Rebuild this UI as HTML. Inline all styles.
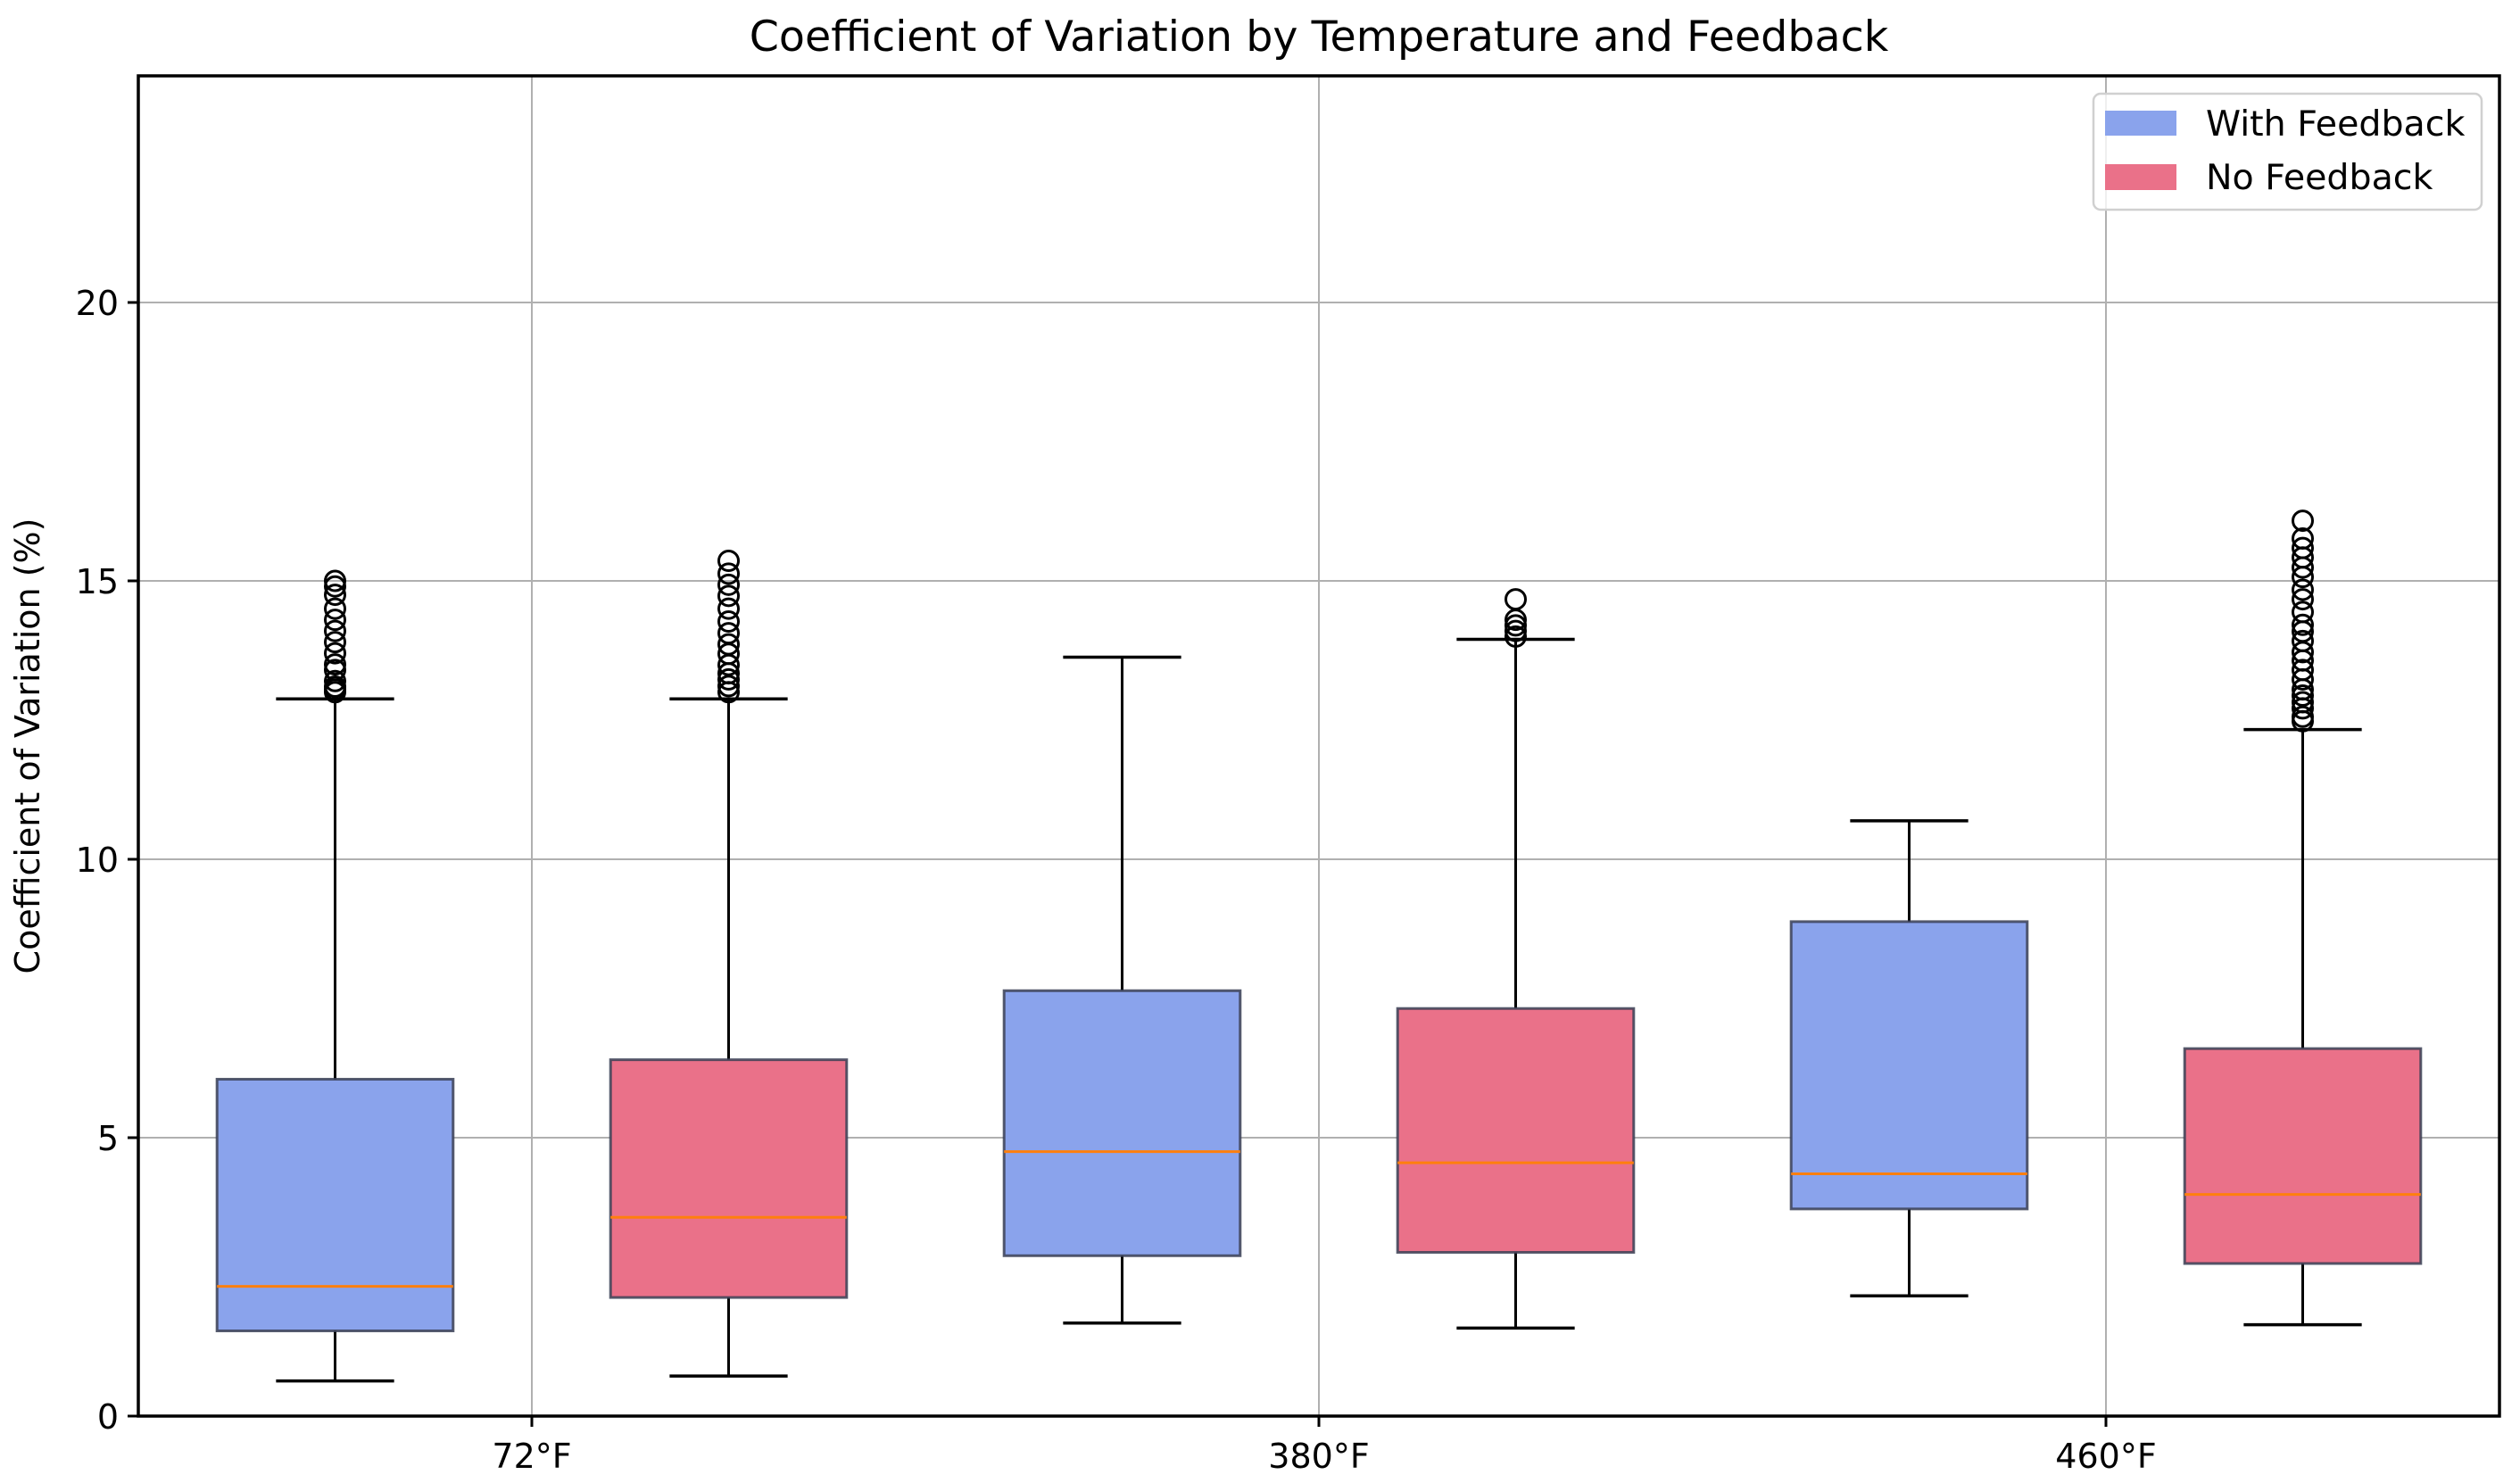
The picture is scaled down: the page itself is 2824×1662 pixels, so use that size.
<!DOCTYPE html>
<html><head><meta charset="utf-8"><style>
body{margin:0;background:#fff}
svg{display:block;font-family:"DejaVu Sans","Liberation Sans",sans-serif}
</style></head><body>
<svg id="chart" width="2824" height="1662" viewBox="0 0 2824 1662" xmlns="http://www.w3.org/2000/svg">
<rect width="2824" height="1662" fill="#fff"/>
<text x="1478" y="57" font-size="47.5" text-anchor="middle" fill="#000">Coefficient of Variation by Temperature and Feedback</text>
<text transform="translate(44,836) rotate(-90)" font-size="38" text-anchor="middle" fill="#000">Coefficient of Variation (%)</text>
<g id="grid"></g>
<g id="boxes"></g>
<rect x="155" y="85" width="2646" height="1502" fill="none" stroke="#000" stroke-width="3.5"/>
<g id="axes"></g>
<g>
<rect x="2346" y="105" width="435" height="130" rx="8" fill="#fff" fill-opacity="0.8" stroke="#d0d0d0" stroke-width="2.5"/>
<rect x="2359" y="124" width="80" height="28" fill="#8aa3ec"/>
<text x="2472" y="152" font-size="39.5" fill="#000">With Feedback</text>
<rect x="2359" y="184" width="80" height="29" fill="#ea7189"/>
<text x="2472" y="212" font-size="39.5" fill="#000">No Feedback</text>
</g>
</svg>
<script>
const categories = ["72°F", "380°F", "460°F"];
const seriesNames = ["With Feedback", "No Feedback"];
const whiskerLow = [0.63, 0.72, 1.67, 1.58, 2.16, 1.64];
const q1 = [1.53, 2.13, 2.88, 2.94, 3.72, 2.74];
const median = [2.33, 3.57, 4.75, 4.55, 4.35, 3.98];
const q3 = [6.05, 6.4, 7.64, 7.32, 8.88, 6.6];
const whiskerHigh = [12.88, 12.88, 13.63, 13.95, 10.69, 12.33];
const outliers0 = [13.0, 13.05, 13.1, 13.2, 13.4, 13.5, 13.7, 13.9, 14.1, 14.3, 14.5, 14.75, 14.9, 15.0];
const outliers1 = [13.0, 13.11, 13.23, 13.34, 13.49, 13.69, 13.86, 14.06, 14.27, 14.5, 14.73, 14.93, 15.13, 15.36];
const outliers2 = [];
const outliers3 = [14.0, 14.1, 14.2, 14.3, 14.67];
const outliers4 = [];
const outliers5 = [12.48, 12.56, 12.71, 12.82, 12.94, 13.05, 13.23, 13.4, 13.57, 13.72, 13.92, 14.09, 14.21, 14.44, 14.67, 14.84, 15.07, 15.24, 15.42, 15.59, 15.76, 16.08];
const yTicks = [0, 5, 10, 15, 20];

const NS = "http://www.w3.org/2000/svg";
const L = 155, R = 2801, T = 85, B = 1587;
const xMin = -0.5, xMax = 2.5, yMin = 0, yMax = 24.07;
const xs = v => L + (v - xMin) / (xMax - xMin) * (R - L);
const ys = v => B - (v - yMin) / (yMax - yMin) * (B - T);
function el(tag, attrs, parent) {
  const e = document.createElementNS(NS, tag);
  for (const k in attrs) e.setAttribute(k, attrs[k]);
  parent.appendChild(e);
  return e;
}
const grid = document.getElementById('grid');
const boxes = document.getElementById('boxes');
const axes = document.getElementById('axes');

yTicks.forEach(t => {
  const y = ys(t);
  if (t > 0) {
    const g = el('line', {x1: L, x2: R, y1: y, y2: y, stroke: '#b0b0b0', 'stroke-width': 2}, grid);
    
    
  }
  const tk = el('line', {x1: L - 12, x2: L, y1: y, y2: y, stroke: '#000', 'stroke-width': 3}, axes);
  
  
  const lb = el('text', {x: L - 22, y: y + 14, 'font-size': 38, 'text-anchor': 'end', fill: '#000'}, axes);
  lb.textContent = t;
  
  
});
categories.forEach((c, i) => {
  const x = xs(i);
  const g = el('line', {x1: x, x2: x, y1: T, y2: B, stroke: '#b0b0b0', 'stroke-width': 2}, grid);
  
  
  const tk = el('line', {x1: x, x2: x, y1: B, y2: B + 12, stroke: '#000', 'stroke-width': 3}, axes);
  
  
  const lb = el('text', {x: x, y: B + 58, 'font-size': 38, 'text-anchor': 'middle', fill: '#000'}, axes);
  lb.textContent = c;
  
  
});

const outliers = [outliers0, outliers1, outliers2, outliers3, outliers4, outliers5];
const fills = ['#8aa3ec', '#ea7189'];
const boxW = 0.3, capW = 0.15;
for (let k = 0; k < 6; k++) {
  const pos = Math.floor(k / 2) + (k % 2 === 0 ? -0.25 : 0.25);
  const cx = xs(pos);
  const x0 = xs(pos - boxW / 2), x1 = xs(pos + boxW / 2);
  const c0 = xs(pos - capW / 2), c1 = xs(pos + capW / 2);
  const g = el('g', {}, boxes);
  
  
  el('line', {x1: cx, x2: cx, y1: ys(whiskerLow[k]), y2: ys(q1[k]), stroke: '#000', 'stroke-width': 3}, g);
  el('line', {x1: cx, x2: cx, y1: ys(q3[k]), y2: ys(whiskerHigh[k]), stroke: '#000', 'stroke-width': 3}, g);
  el('line', {x1: c0, x2: c1, y1: ys(whiskerLow[k]), y2: ys(whiskerLow[k]), stroke: '#000', 'stroke-width': 3.5}, g);
  el('line', {x1: c0, x2: c1, y1: ys(whiskerHigh[k]), y2: ys(whiskerHigh[k]), stroke: '#000', 'stroke-width': 3.5}, g);
  el('rect', {x: x0, y: ys(q3[k]), width: x1 - x0, height: ys(q1[k]) - ys(q3[k]), fill: fills[k % 2], stroke: '#3a3f55', 'stroke-opacity': 0.85, 'stroke-width': 3}, g);
  el('line', {x1: x0, x2: x1, y1: ys(median[k]), y2: ys(median[k]), stroke: '#ff7f0e', 'stroke-width': 3}, g);
  outliers[k].forEach(v => {
    const c = el('circle', {cx: cx, cy: ys(v), r: 11, fill: 'none', stroke: '#000', 'stroke-width': 3}, g);
    
    
  });
}
</script>
</body></html>
